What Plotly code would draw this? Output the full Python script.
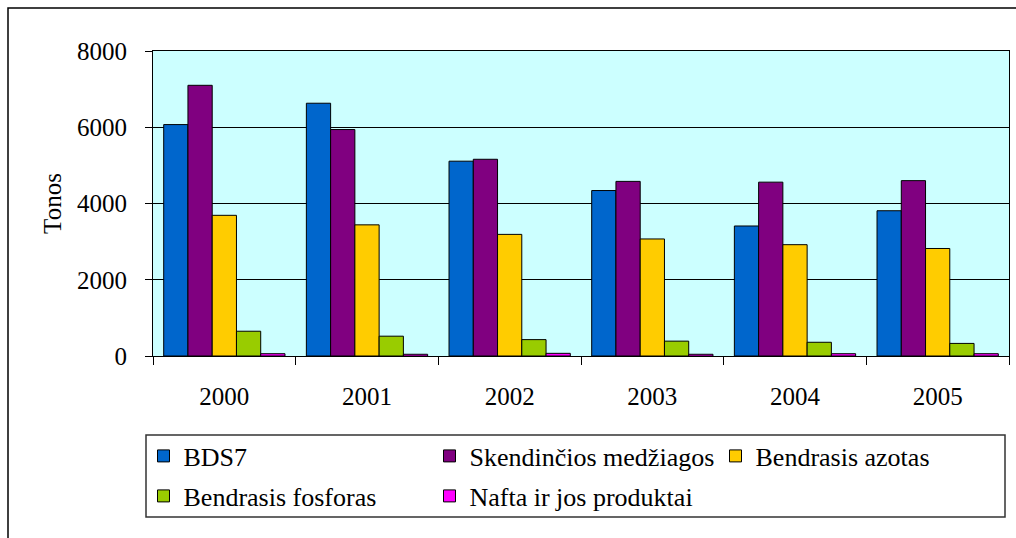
import plotly.graph_objects as go

# Data
years = ['2000', '2001', '2002', '2003', '2004', '2005']
bds7 = [6070, 6630, 5110, 4340, 3410, 3810]
skendincios = [7100, 5940, 5160, 4580, 4560, 4600]
azotas = [3690, 3440, 3190, 3070, 2920, 2820]
fosforas = [650, 520, 430, 390, 360, 330]
nafta = [60, 45, 70, 45, 60, 60]

series = [
    ('BDS7', bds7, '#0066CC', 'legend'),
    ('Skendinčios medžiagos', skendincios, '#800080', 'legend'),
    ('Bendrasis azotas', azotas, '#FFCC00', 'legend'),
    ('Bendrasis fosforas', fosforas, '#99CC00', 'legend2'),
    ('Nafta ir jos produktai', nafta, '#FF00FF', 'legend2'),
]

# plot area in pixels
L, R, T, B = 153, 1009, 51, 356
W, H = 1016, 538

def px_x(p):
    return (p - L) / (R - L)

def px_y(p):
    return (B - p) / (B - T)

fig = go.Figure()
for name, vals, color, leg in series:
    fig.add_trace(go.Bar(x=years, y=vals, name=name, legend=leg,
                         marker=dict(color=color, line=dict(color='black', width=1))))

SERIF = 'Liberation Serif'

def font(size=25):
    return dict(family=SERIF, size=size, color='black')

def legend_opts(y):
    return dict(orientation='h', xanchor='left', yanchor='middle',
                x=px_x(143.5), y=px_y(y),
                bgcolor='rgba(0,0,0,0)', borderwidth=0, font=font(26),
                entrywidth=241, entrywidthmode='pixels', traceorder='normal')

fig.update_layout(
    width=W, height=H,
    margin=dict(l=L, r=W - R, t=T, b=H - B),
    paper_bgcolor='white',
    plot_bgcolor='#CCFFFF',
    font=font(25),
    barmode='group',
    bargap=0.15,
    bargroupgap=0,
    showlegend=True,
    legend=legend_opts(456),
    legend2=legend_opts(496),
    xaxis=dict(showline=True, linecolor='black', linewidth=1, mirror=True,
               ticks='outside', tickson='boundaries', ticklen=8, tickcolor='black',
               ticklabelstandoff=18, showgrid=False, tickfont=font(25)),
    yaxis=dict(range=[0, 8000], tickvals=[0, 2000, 4000, 6000, 8000],
               showline=True, linecolor='black', linewidth=1, mirror=True,
               ticks='outside', ticklen=7, tickcolor='black', ticklabelstandoff=13,
               showgrid=True, gridcolor='black', gridwidth=1, zeroline=False,
               tickfont=font(25),
               title=dict(text='Tonos', standoff=8, font=font(25))),
    shapes=[
        # outer chart frame
        dict(type='rect', xref='paper', yref='paper',
             x0=px_x(8), x1=px_x(1030), y0=px_y(8), y1=px_y(560),
             line=dict(color='black', width=1.5), layer='below'),
        # legend box
        dict(type='rect', xref='paper', yref='paper',
             x0=px_x(146), x1=px_x(1005), y0=px_y(435), y1=px_y(517),
             line=dict(color='#333333', width=1.5)),
    ],
)

fig.write_html("out.html", config={'displayModeBar': False, 'displaylogo': False},
               post_script="document.body.style.margin='0';document.body.style.overflow='hidden';")
